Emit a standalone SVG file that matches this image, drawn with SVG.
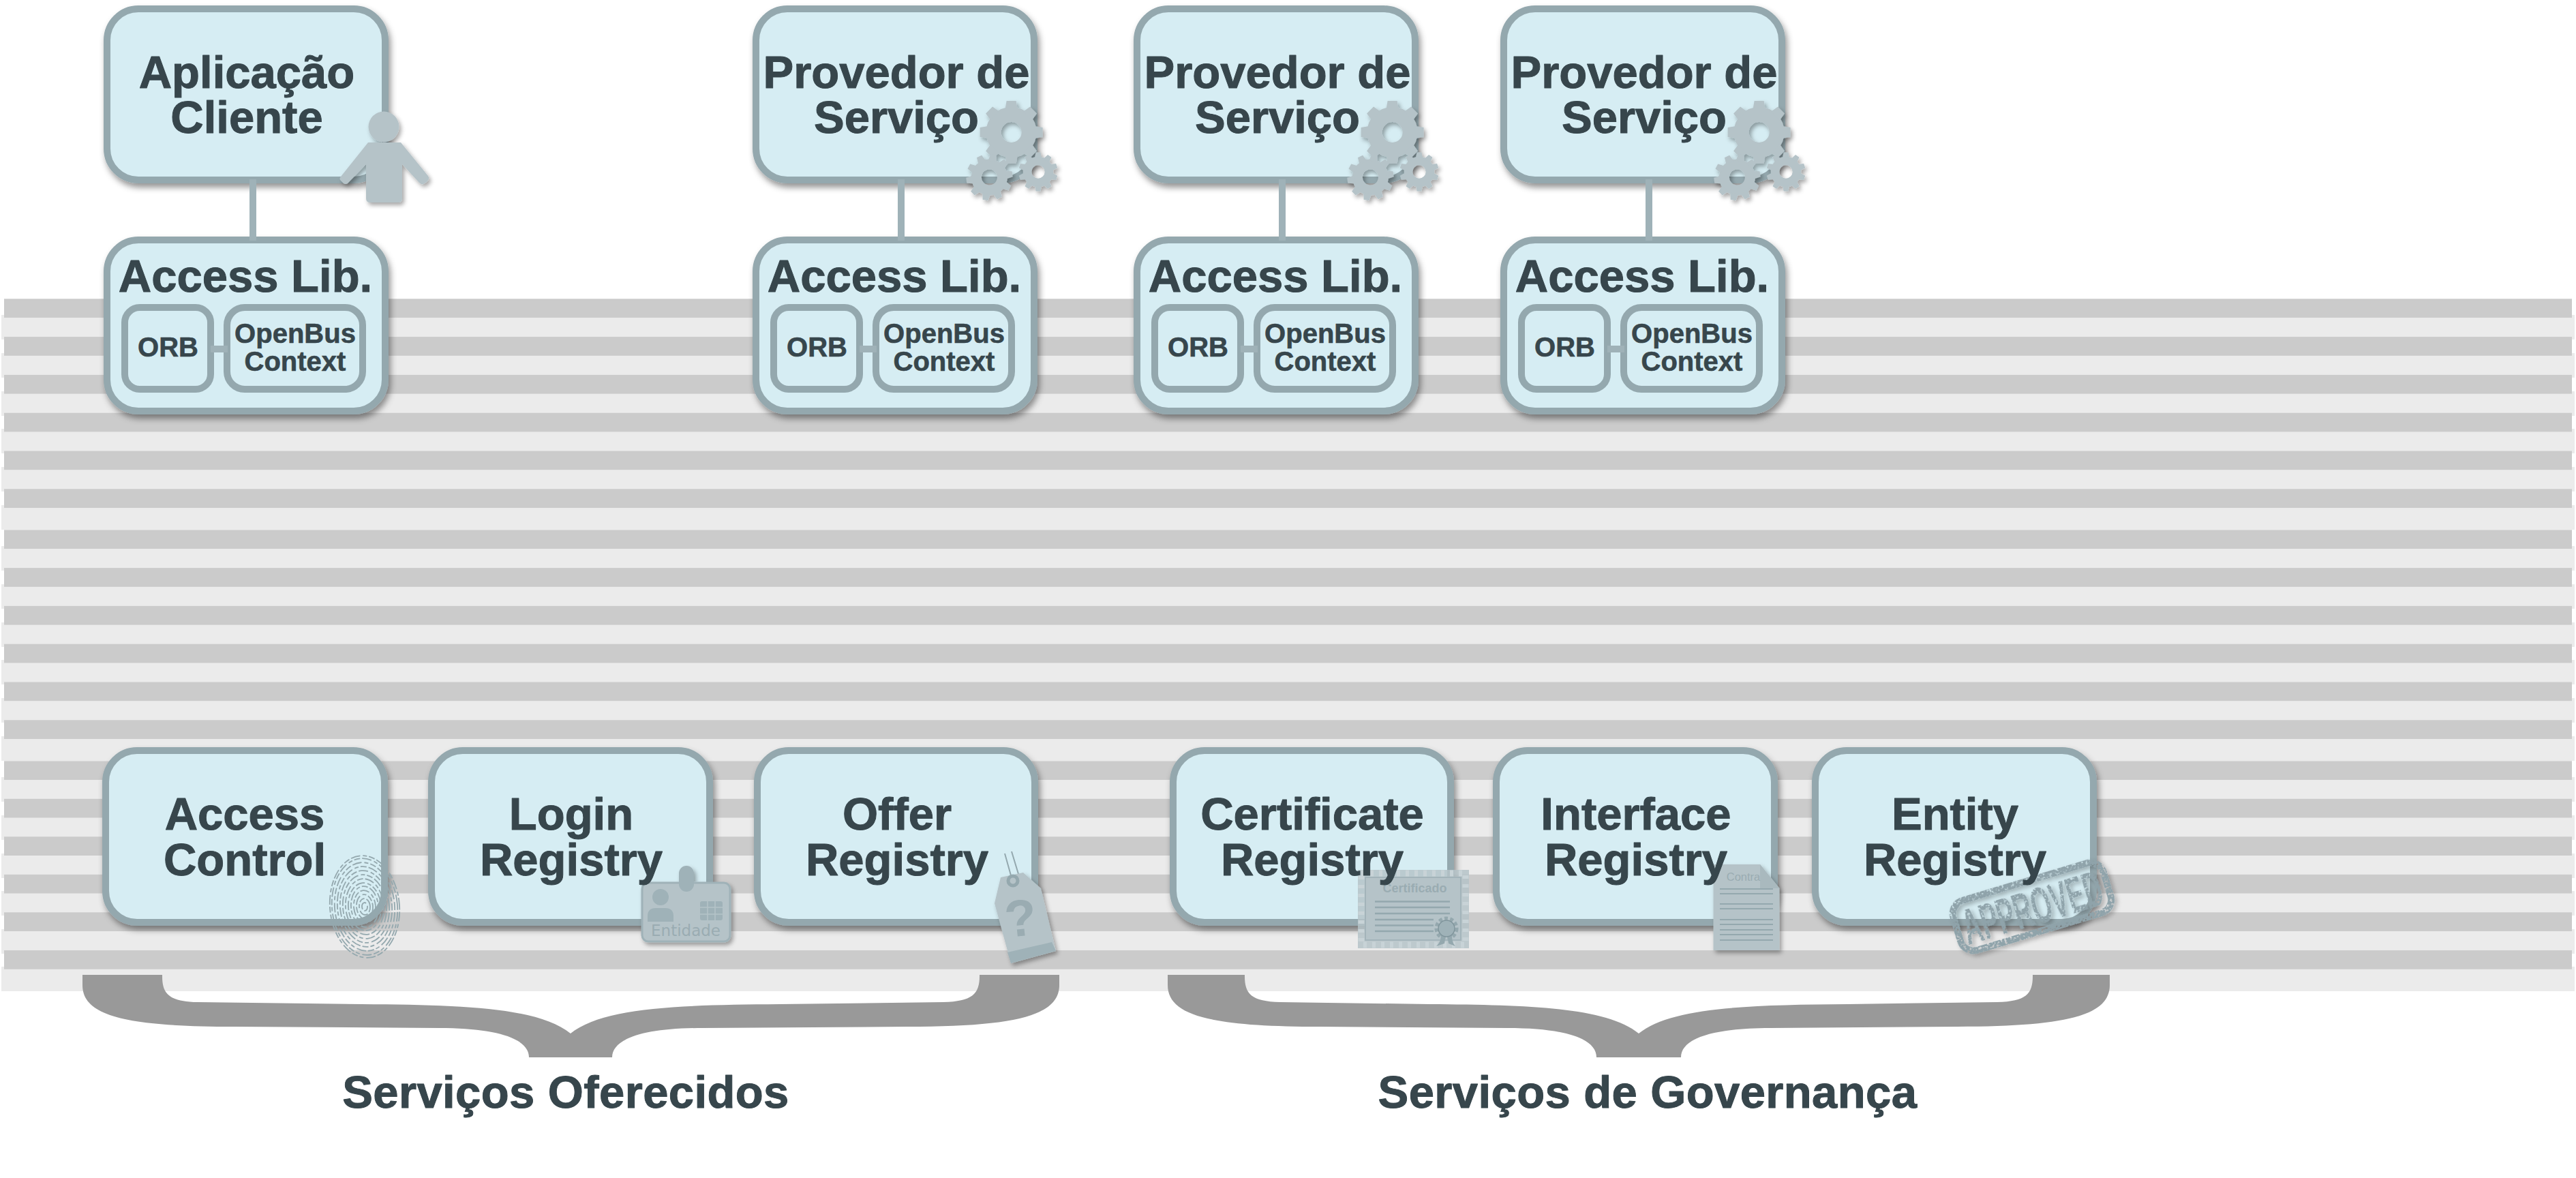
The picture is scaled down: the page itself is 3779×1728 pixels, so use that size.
<svg xmlns="http://www.w3.org/2000/svg" xmlns:xlink="http://www.w3.org/1999/xlink" width="3779" height="1728" viewBox="0 0 3779 1728">
<style>
.box{fill:#d6edf3;stroke:#94a8ae;stroke-width:10}
.in{fill:#d6edf3;stroke:#94a8ae;stroke-width:10}
text{font-family:"Liberation Sans",Arial,sans-serif;font-weight:700;fill:#37464c;text-anchor:middle}
.big{font-size:67px;stroke:#37464c;stroke-width:1;stroke-linejoin:round}
.small{font-size:40px;stroke:#37464c;stroke-width:.6;stroke-linejoin:round}
.ic{fill:#b5c3c8}
.ln{stroke:#94a8ae;fill:none}
.dk{fill:#cbcbcb}
.lt{fill:#ebebeb}
.brace{fill:#999}
.conn{stroke:#9fb2b8;stroke-width:10;fill:none}
text.mark{fill:#9aacb2;stroke:none}
</style>
<defs>
<filter id="sh" x="-20%" y="-20%" width="145%" height="145%"><feDropShadow dx="3" dy="6" stdDeviation="5" flood-color="#000" flood-opacity="0.42"/></filter>
<filter id="shi" x="-30%" y="-30%" width="170%" height="170%"><feDropShadow dx="3" dy="4" stdDeviation="3" flood-color="#000" flood-opacity="0.35"/></filter>
<filter id="grunge" x="-15%" y="-25%" width="135%" height="160%">
<feTurbulence type="fractalNoise" baseFrequency="0.32" numOctaves="2" seed="4" result="n"/>
<feColorMatrix in="n" type="matrix" values="0 0 0 0 0  0 0 0 0 0  0 0 0 0 0  0 0 0 -10 6.6" result="m"/>
<feComposite in="SourceGraphic" in2="m" operator="in" result="g"/>
<feDropShadow in="g" dx="3" dy="4" stdDeviation="3" flood-color="#000" flood-opacity="0.3"/>
</filter>
<path id="tA" class="ic" d="M-9,-34L-7,-46H7L9,-34Z"/>
<path id="tB" class="ic" d="M-6,-24L-4,-34H4L6,-24Z"/>
<g id="gearA">
<circle r="26" fill="none" stroke="#b5c3c8" stroke-width="22"/>
<use href="#tA"/><use href="#tA" transform="rotate(45)"/><use href="#tA" transform="rotate(90)"/><use href="#tA" transform="rotate(135)"/><use href="#tA" transform="rotate(180)"/><use href="#tA" transform="rotate(225)"/><use href="#tA" transform="rotate(270)"/><use href="#tA" transform="rotate(315)"/>
</g>
<g id="gearB">
<circle r="19" fill="none" stroke="#b5c3c8" stroke-width="15"/>
<use href="#tB"/><use href="#tB" transform="rotate(36)"/><use href="#tB" transform="rotate(72)"/><use href="#tB" transform="rotate(108)"/><use href="#tB" transform="rotate(144)"/><use href="#tB" transform="rotate(180)"/><use href="#tB" transform="rotate(216)"/><use href="#tB" transform="rotate(252)"/><use href="#tB" transform="rotate(288)"/><use href="#tB" transform="rotate(324)"/>
</g>
<g id="gears" filter="url(#shi)">
<use href="#gearA" transform="translate(1483.6,194)"/>
<use href="#gearB" transform="translate(1451.4,260) rotate(10)"/>
<use href="#gearB" transform="translate(1523,252) scale(.84)"/>
</g>
</defs>

<g id="stripes">
<rect class="lt" x="2" y="462" width="3775" height="36"/><rect class="lt" x="2" y="518" width="3775" height="36"/><rect class="lt" x="2" y="574" width="3775" height="36"/><rect class="lt" x="2" y="629" width="3775" height="36"/><rect class="lt" x="2" y="685" width="3775" height="36"/><rect class="lt" x="2" y="741" width="3775" height="36"/>
<rect class="lt" x="2" y="801" width="3775" height="36"/><rect class="lt" x="2" y="857" width="3775" height="36"/><rect class="lt" x="2" y="913" width="3775" height="36"/><rect class="lt" x="2" y="968" width="3775" height="36"/><rect class="lt" x="2" y="1024" width="3775" height="36"/><rect class="lt" x="2" y="1080" width="3775" height="36"/>
<rect class="lt" x="2" y="1140" width="3775" height="36"/><rect class="lt" x="2" y="1196" width="3775" height="36"/><rect class="lt" x="2" y="1252" width="3775" height="36"/><rect class="lt" x="2" y="1307" width="3775" height="36"/><rect class="lt" x="2" y="1363" width="3775" height="36"/><rect class="lt" x="2" y="1418" width="3775" height="36"/>
<rect class="dk" x="6" y="438.3" width="3767" height="27.7"/><rect class="dk" x="6" y="494.1" width="3767" height="27.7"/><rect class="dk" x="6" y="549.9" width="3767" height="27.7"/><rect class="dk" x="6" y="605.7" width="3767" height="27.7"/><rect class="dk" x="6" y="661.5" width="3767" height="27.7"/><rect class="dk" x="6" y="717.3" width="3767" height="27.7"/>
<rect class="dk" x="6" y="777.3" width="3767" height="27.7"/><rect class="dk" x="6" y="833.1" width="3767" height="27.7"/><rect class="dk" x="6" y="888.9" width="3767" height="27.7"/><rect class="dk" x="6" y="944.7" width="3767" height="27.7"/><rect class="dk" x="6" y="1000.5" width="3767" height="27.7"/><rect class="dk" x="6" y="1056.3" width="3767" height="27.7"/>
<rect class="dk" x="6" y="1116.3" width="3767" height="27.7"/><rect class="dk" x="6" y="1171.8" width="3767" height="27.7"/><rect class="dk" x="6" y="1227.3" width="3767" height="27.7"/><rect class="dk" x="6" y="1282.8" width="3767" height="27.7"/><rect class="dk" x="6" y="1338.3" width="3767" height="27.7"/><rect class="dk" x="6" y="1394" width="3767" height="27.7"/>
</g>

<g id="client">
<rect class="box" x="157" y="13" width="408" height="251" rx="46" filter="url(#sh)"/>
<text class="big" x="362" y="128.5">Aplicação</text>
<text class="big" x="362" y="195">Cliente</text>
<g filter="url(#shi)">
<ellipse class="ic" cx="563" cy="186" rx="22.5" ry="22.5"/>
<path class="ic" d="M540,209H588L628,258Q631,263 626,267L621,270Q618,271 615,268L590,241V291Q590,297 584,297H543Q537,297 537,291V241L510,269Q507,271 504,269L500,265Q497,262 500,259Z"/>
</g>
</g>

<g id="lib-client">
<rect class="box" x="157" y="352" width="408" height="251" rx="46" filter="url(#sh)"/>
<text class="big" x="360" y="428">Access Lib.</text>
<rect class="in" x="183" y="451" width="126" height="120" rx="22"/>
<rect class="in" x="333" y="451" width="199" height="120" rx="26"/>
<text class="small" x="246.500" y="523">ORB</text>
<text class="small" x="433" y="503">OpenBus</text>
<text class="small" x="433" y="544">Context</text>
</g>

<g id="provider1">
<rect class="box" x="1109" y="13" width="408" height="251" rx="46" filter="url(#sh)"/>
<use href="#gears"/>
<text class="big" x="1315" y="128.5">Provedor de</text>
<text class="big" x="1315" y="195">Serviço</text>
</g>
<g id="lib-provider1" transform="translate(952,0)">
<rect class="box" x="157" y="352" width="408" height="251" rx="46" filter="url(#sh)"/>
<text class="big" x="360" y="428">Access Lib.</text>
<rect class="in" x="183" y="451" width="126" height="120" rx="22"/>
<rect class="in" x="333" y="451" width="199" height="120" rx="26"/>
<text class="small" x="246.500" y="523">ORB</text>
<text class="small" x="433" y="503">OpenBus</text>
<text class="small" x="433" y="544">Context</text>
</g>

<g id="provider2" transform="translate(559,0)">
<rect class="box" x="1109" y="13" width="408" height="251" rx="46" filter="url(#sh)"/>
<use href="#gears"/>
<text class="big" x="1315" y="128.5">Provedor de</text>
<text class="big" x="1315" y="195">Serviço</text>
</g>
<g id="lib-provider2" transform="translate(1511,0)">
<rect class="box" x="157" y="352" width="408" height="251" rx="46" filter="url(#sh)"/>
<text class="big" x="360" y="428">Access Lib.</text>
<rect class="in" x="183" y="451" width="126" height="120" rx="22"/>
<rect class="in" x="333" y="451" width="199" height="120" rx="26"/>
<text class="small" x="246.500" y="523">ORB</text>
<text class="small" x="433" y="503">OpenBus</text>
<text class="small" x="433" y="544">Context</text>
</g>

<g id="provider3" transform="translate(1097,0)">
<rect class="box" x="1109" y="13" width="408" height="251" rx="46" filter="url(#sh)"/>
<use href="#gears"/>
<text class="big" x="1315" y="128.5">Provedor de</text>
<text class="big" x="1315" y="195">Serviço</text>
</g>
<g id="lib-provider3" transform="translate(2049,0)">
<rect class="box" x="157" y="352" width="408" height="251" rx="46" filter="url(#sh)"/>
<text class="big" x="360" y="428">Access Lib.</text>
<rect class="in" x="183" y="451" width="126" height="120" rx="22"/>
<rect class="in" x="333" y="451" width="199" height="120" rx="26"/>
<text class="small" x="246.500" y="523">ORB</text>
<text class="small" x="433" y="503">OpenBus</text>
<text class="small" x="433" y="544">Context</text>
</g>

<g id="access-control">
<rect class="box" x="155" y="1101" width="409" height="252" rx="46" filter="url(#sh)"/>
<g transform="rotate(-5 535 1330)" fill="none" stroke="#94a8ae" stroke-width="1.800" stroke-dasharray="9 3 14 4 6 3">
<ellipse cx="535" cy="1330" rx="4" ry="6"/><ellipse cx="535" cy="1330" rx="8" ry="12"/><ellipse cx="535" cy="1330" rx="12" ry="18"/><ellipse cx="535" cy="1330" rx="16" ry="24"/><ellipse cx="535" cy="1330" rx="20" ry="30"/><ellipse cx="535" cy="1330" rx="24" ry="35"/><ellipse cx="535" cy="1330" rx="28" ry="41"/><ellipse cx="535" cy="1330" rx="32" ry="47"/><ellipse cx="535" cy="1330" rx="36" ry="53"/><ellipse cx="535" cy="1330" rx="40" ry="59"/><ellipse cx="535" cy="1330" rx="44" ry="65"/><ellipse cx="535" cy="1330" rx="48" ry="71"/><ellipse cx="535" cy="1330" rx="51" ry="75"/>
</g>
<text class="big" x="359" y="1217">Access</text>
<text class="big" x="359" y="1284">Control</text>
</g>

<g id="login-registry">
<rect class="box" x="633" y="1101" width="408" height="252" rx="46" filter="url(#sh)"/>
<g filter="url(#shi)">
<rect class="ic" x="942" y="1295" width="129" height="86" rx="9" stroke="#9fb2b8" stroke-width="3"/>
<rect x="996" y="1270" width="22" height="38" rx="11" fill="#9fb2b8"/>
</g>
<ellipse cx="969" cy="1316" rx="12" ry="12" fill="#9fb2b8"/>
<path d="M950,1352V1344Q950,1332 962,1332H976Q988,1332 988,1344V1352Z" fill="#9fb2b8"/>
<rect x="1027" y="1322" width="33" height="28" rx="3" fill="#9fb2b8"/>
<path d="M1027,1331H1060M1027,1341H1060M1038,1322V1350M1049,1322V1350" stroke="#b5c3c8" stroke-width="1.500" fill="none"/>
<text class="mark" x="1006" y="1373" style="font-family:'DejaVu Sans',sans-serif;font-weight:400;font-size:23px">Entidade</text>
<text class="big" x="838" y="1217">Login</text>
<text class="big" x="838" y="1284">Registry</text>
</g>

<g id="offer-registry">
<rect class="box" x="1111" y="1101" width="407" height="252" rx="46" filter="url(#sh)"/>
<path d="M1474,1252L1483,1284M1484,1249L1494,1282" stroke="#94a8ae" stroke-width="2" fill="none"/>
<g filter="url(#shi)">
<path class="ic" d="M1468,1287L1501,1280L1527,1303L1549,1395L1483,1413L1459,1325Z"/>
<path d="M1543,1382L1549,1395L1483,1413L1478,1397Z" fill="#9fb2b8"/>
</g>
<circle cx="1486" cy="1292" r="7" fill="none" stroke="#94a8ae" stroke-width="5"/>
<text class="mark" x="1497" y="1373" transform="rotate(-6 1497 1345)" style="font-size:76px">?</text>
<text class="big" x="1316" y="1217">Offer</text>
<text class="big" x="1316" y="1284">Registry</text>
</g>

<g id="certificate-registry">
<rect class="box" x="1721" y="1101" width="407" height="252" rx="46" filter="url(#sh)"/>
<rect x="1992" y="1276" width="163" height="115" fill="#b5c3c8" opacity=".85"/>
<rect x="1997" y="1281" width="153" height="105" fill="none" stroke="#c8d3d7" stroke-width="9" stroke-dasharray="5 8"/>
<rect x="2003" y="1287" width="140" height="92" fill="#b5c3c8" stroke="#a3b4ba" stroke-width="2"/>
<text class="mark" x="2075.500" y="1309" style="font-size:18px">Certificado</text>
<path class="ln" stroke-width="2.500" d="M2017,1322.500H2127M2017,1331H2127M2017,1340H2127M2017,1349H2103M2017,1357.500H2103M2017,1366H2103"/>
<path d="M2113,1368Q2116,1380 2107,1388L2119,1384L2122,1366ZM2131,1368Q2128,1380 2135,1388L2125,1384L2122,1366Z" fill="#94a8ae"/>
<circle cx="2122" cy="1362" r="15" fill="none" stroke="#94a8ae" stroke-width="5" stroke-dasharray="5 3.400"/>
<circle cx="2122" cy="1362" r="12" fill="#9fb2b8" stroke="#7f949b" stroke-width="1.500"/>
<text class="big" x="1925" y="1217">Certificate</text>
<text class="big" x="1925" y="1284">Registry</text>
</g>

<g id="interface-registry">
<rect class="box" x="2195" y="1101" width="408" height="252" rx="46" filter="url(#sh)"/>
<g filter="url(#shi)">
<path class="ic" d="M2513.500,1268H2582L2610.500,1303V1394H2513.500Z"/>
</g>
<path d="M2582,1268L2610.500,1303H2582Z" fill="#a9b9be"/>
<text class="mark" x="2557.500" y="1292" style="font-weight:400;font-size:16.500px">Contra</text>
<path class="ln" stroke-width="2" d="M2523,1304H2601M2523,1311H2601M2523,1326H2601M2523,1333H2601M2523,1349H2601M2523,1356H2601M2523,1364H2601M2523,1371H2601M2523,1379H2601"/>
<text class="big" x="2400" y="1217">Interface</text>
<text class="big" x="2400" y="1284">Registry</text>
</g>

<g id="entity-registry">
<rect class="box" x="2663" y="1101" width="408" height="252" rx="46" filter="url(#sh)"/>
<g filter="url(#grunge)" transform="rotate(-16.700 2981 1330)">
<rect x="2866" y="1292" width="230" height="76" rx="20" fill="none" stroke="#8fa3aa" stroke-width="10"/>
<text x="2981" y="1357" textLength="212" lengthAdjust="spacingAndGlyphs" style="font-size:74px;fill:#8fa3aa">APPROVED</text>
</g>
<text class="big" x="2868" y="1217">Entity</text>
<text class="big" x="2868" y="1284">Registry</text>
</g>

<g id="connectors">
<path class="conn" d="M371,263V353M1322,263V353M1881,263V353M2419,263V353"/>
<path class="conn" d="M309,512H334M1261,512H1286M1820,512H1845M2358,512H2383"/>
</g>

<g id="brace-oferecidos">
<path class="brace" d="M121,1430H238V1432C238,1458 248,1469 290,1470L530,1473C680,1474 790,1478 837,1516C884,1478 994,1474 1144,1473L1384,1470C1426,1469 1437,1458 1437,1432V1430H1554V1445C1554,1490 1490,1506 1330,1506L1030,1508C940,1508 898,1525 898,1551H776C776,1525 734,1508 644,1508L344,1506C184,1506 121,1490 121,1445Z"/>
<text class="big" x="830" y="1625" style="letter-spacing:.4px">Serviços Oferecidos</text>
</g>
<g id="brace-governanca">
<path class="brace" d="M1713,1430H1826V1432C1826,1458 1836,1469 1878,1470L2097,1473C2247,1474 2357,1478 2404,1516C2451,1478 2561,1474 2711,1473L2930,1470C2972,1469 2982,1458 2982,1432V1430H3095V1445C3095,1490 3031,1506 2871,1506L2597,1508C2507,1508 2466,1525 2466,1551H2342C2342,1525 2301,1508 2211,1508L1937,1506C1777,1506 1713,1490 1713,1445Z"/>
<text class="big" x="2417" y="1625" style="letter-spacing:.4px">Serviços de Governança</text>
</g>
</svg>
